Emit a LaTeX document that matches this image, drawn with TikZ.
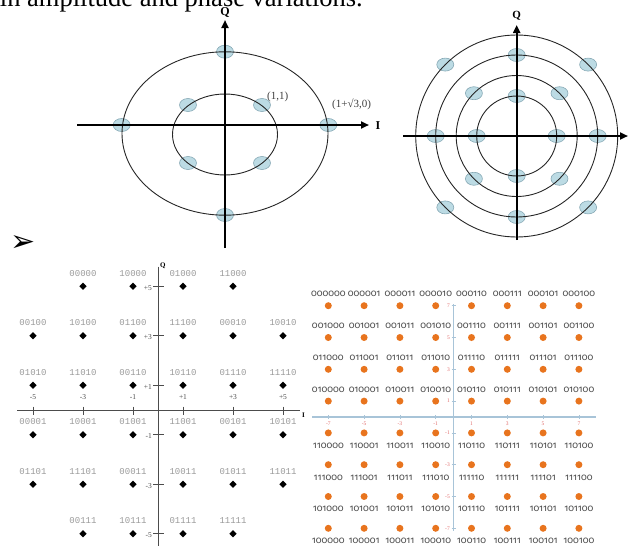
\documentclass[tikz,border=0pt]{standalone}
\usepackage{fontspec}
\setmainfont{Liberation Serif}
\newfontfamily\monoF{Liberation Mono}
\newfontfamily\labF[Numbers=OldStyle]{Fira Sans}
\newfontfamily\symF{DejaVu Sans}
\usetikzlibrary{arrows.meta,shapes.geometric}
\definecolor{ptfill}{HTML}{BCDBE4}
\definecolor{ptdraw}{HTML}{86A8B4}
\definecolor{qorange}{HTML}{E8741E}
\definecolor{qaxis}{HTML}{A8C4D8}
\definecolor{qtick}{HTML}{E06A6A}
\definecolor{qlab}{HTML}{4A4A4A}
\definecolor{mlab}{HTML}{9A9A9A}
\tikzset{
  ring/.style={draw=black!85, line width=0.9pt},
  bigaxis/.style={draw=black, line width=2pt, -{Triangle[length=8pt,width=7pt]}},
  cpt/.style={ellipse, draw=ptdraw, fill=ptfill, line width=0.6pt, minimum width=17pt, minimum height=13pt, inner sep=0pt},
  axlab/.style={font=\bfseries\fontsize{12}{12}\selectfont, inner sep=0pt},
  ptlab/.style={font=\fontsize{11}{11}\selectfont, text=black!75, inner sep=0pt},
  ax32/.style={draw=black!70, line width=0.8pt},
  tick32/.style={draw=black!70, line width=0.7pt},
  ticklab32/.style={font=\fontsize{7.5}{7.5}\selectfont, text=black!70, inner sep=0pt},
  dia/.style={diamond, fill=black, minimum width=7.5pt, minimum height=7.5pt, inner sep=0pt},
  lab32/.style={font=\monoF\fontsize{9}{9}\selectfont, text=mlab, inner sep=0pt},
  ax64/.style={draw=qaxis, line width=1.3pt},
  tick64/.style={draw=qaxis, line width=0.7pt},
  ticklab64/.style={font=\fontsize{5.5}{5.5}\selectfont, text=qtick, inner sep=0pt},
  odot/.style={circle, fill=qorange, minimum size=7pt, inner sep=0pt},
  lab64/.style={font=\labF\fontsize{9.5}{9.5}\selectfont, text=qlab, inner sep=0pt}
}
\begin{document}
\begin{tikzpicture}[x=1pt,y=-1pt]
\useasboundingbox (0,0) rectangle (629,546);
\clip (0,0) rectangle (629,546);

% clipped caption line at the top
\node[anchor=base east, inner sep=0pt, font=\fontsize{26.5}{26.5}\selectfont] (caption) at (363,6) {in amplitude and phase variations.};

% ---------- top-left constellation ----------
\foreach \n/\px/\py in {1/121.7/125, 2/328.3/125, 3/225/51.7, 4/225/215,
                        5/188/105, 6/262/105, 7/188/163, 8/262/163}
  \node[cpt] (tlp\n) at (\px,\py) {};
\draw[ring] (225,133.5) ellipse [x radius=103pt, y radius=81.7pt];
\draw[ring] (225,134.5) ellipse [x radius=52.5pt, y radius=40.5pt];
\coordinate (tlW) at (77,125);
\coordinate (tlE) at (369,125);
\coordinate (tlS) at (225,248);
\coordinate (tlN) at (225,20);
\draw[bigaxis] (tlW) -- (tlE);
\draw[bigaxis] (tlS) -- (tlN);
\node[axlab] (tlI) at (378,126) {I};
\node[axlab] (tlQ) at (225,13) {Q};
\node[ptlab, anchor=west] (lab11) at (267,97) {(1,1)};
\node[ptlab, anchor=west] (lab13) at (332,104) {(1+√3,0)};

% ---------- top-right constellation ----------
\foreach \n/\ang/\r in {1/0/40, 2/90/40, 3/180/40, 4/270/40,
                        5/45/60.5, 6/135/60.5, 7/225/60.5, 8/315/60.5,
                        9/0/81, 10/90/81, 11/180/81, 12/270/81,
                        13/45/101, 14/135/101, 15/225/101, 16/315/101}
  \node[cpt] (trp\n) at ({516.7+\r*cos(\ang)},{136-\r*sin(\ang)}) {};
\foreach \r in {40,60.5,81,101}
  \draw[ring] (516.7,136) circle [radius=\r pt];
\coordinate (trW) at (403,136);
\coordinate (trE) at (628,136);
\coordinate (trS) at (516.7,240);
\coordinate (trN) at (516.7,25);
\draw[bigaxis] (trW) -- (trE);
\draw[bigaxis] (trS) -- (trN);
\node[axlab, font=\bfseries\fontsize{11}{11}\selectfont] (trQ) at (516.7,16) {Q};

% bullet arrow
\node[inner sep=0pt, font=\symF\fontsize{30}{30}\selectfont] (bullet) at (23,243) {➢};

% ---------- 32-QAM ----------
\coordinate (q32W) at (17,410.7);
\coordinate (q32E) at (300,410.7);
\coordinate (q32N) at (158,266.5);
\coordinate (q32S) at (158,546);
\draw[ax32] (q32W) -- (q32E);
\draw[ax32] (q32N) -- (q32S);
\node[font=\bfseries\fontsize{7}{7}\selectfont, inner sep=0pt, anchor=west] (q32Q) at (160,266) {Q};
\node[font=\bfseries\fontsize{7}{7}\selectfont, inner sep=0pt, anchor=west] (q32I) at (302,415) {I};
\foreach \i/\t in {-5/-5,-3/-3,-1/-1,1/+1,3/+3,5/+5}{
  \draw[tick32] ({158+25*\i},406.5) -- ({158+25*\i},414.5);
  \node[ticklab32] (xt32\i) at ({158+25*\i},397) {\t};
}
\foreach \j/\t in {5/+5,3/+3,1/+1,-1/-1,-3/-3,-5/-5}{
  \draw[tick32] (153,{410-24.75*\j}) -- (163.5,{410-24.75*\j});
  \node[ticklab32, anchor=east] (yt32\j) at (152,{411.5-24.75*\j}) {\t};
}
\foreach \i/\j/\lab in {-3/5/00000,-1/5/10000,1/5/01000,3/5/11000,
  -5/3/00100,-3/3/10100,-1/3/01100,1/3/11100,3/3/00010,5/3/10010,
  -5/1/01010,-3/1/11010,-1/1/00110,1/1/10110,3/1/01110,5/1/11110,
  -5/-1/00001,-3/-1/10001,-1/-1/01001,1/-1/11001,3/-1/00101,5/-1/10101,
  -5/-3/01101,-3/-3/11101,-1/-3/00011,1/-3/10011,3/-3/01011,5/-3/11011,
  -3/-5/00111,-1/-5/10111,1/-5/01111,3/-5/11111}{
  \node[dia] (d\lab) at ({158+25*\i},{410-24.75*\j}) {};
  \node[lab32] (l\lab) at ([yshift=13pt]d\lab.center) {\lab};
}

% ---------- 64-QAM ----------
\coordinate (q64W) at (312,417);
\coordinate (q64E) at (596,417);
\coordinate (q64N) at (453.6,304);
\coordinate (q64S) at (453.6,531);
\draw[ax64] (q64W) -- (q64E);
\draw[ax64] (q64N) -- (q64S);
\foreach \i/\t in {-7/-7,-5/-5,-3/-3,-1/-1,1/1,3/3,5/5,7/7}{
  \draw[tick64] ({453.6+17.9*\i},415) -- ({453.6+17.9*\i},419);
  \node[ticklab64] (xt64\t) at ({453.6+17.9*\i},424) {\t};
  \draw[tick64] (451.5,{417-15.9*\i}) -- (456,{417-15.9*\i});
  \node[ticklab64, anchor=east] (yt64\t) at (450,{417-15.9*\i}) {\t};
}
\foreach \j/\row in {
  7/{000000,000001,000011,000010,000110,000111,000101,000100},
  5/{001000,001001,001011,001010,001110,001111,001101,001100},
  3/{011000,011001,011011,011010,011110,011111,011101,011100},
  1/{010000,010001,010011,010010,010110,010111,010101,010100},
  -1/{110000,110001,110011,110010,110110,110111,110101,110100},
  -3/{111000,111001,111011,111010,111110,111111,111101,111100},
  -5/{101000,101001,101011,101010,101110,101111,101101,101100},
  -7/{100000,100001,100011,100010,100110,100111,100101,100100}}{
  \pgfmathsetmacro\off{\j>0 ? 11.5 : -12.7}
  \foreach \lab [count=\k from 0] in \row {
    \node[odot] (o\lab) at ({453.6+17.9*(2*\k-7)},{417-15.9*\j}) {};
    \node[lab64] (t\lab) at ([yshift=\off pt]o\lab.center) {\lab};
  }
}
\end{tikzpicture}
\end{document}
